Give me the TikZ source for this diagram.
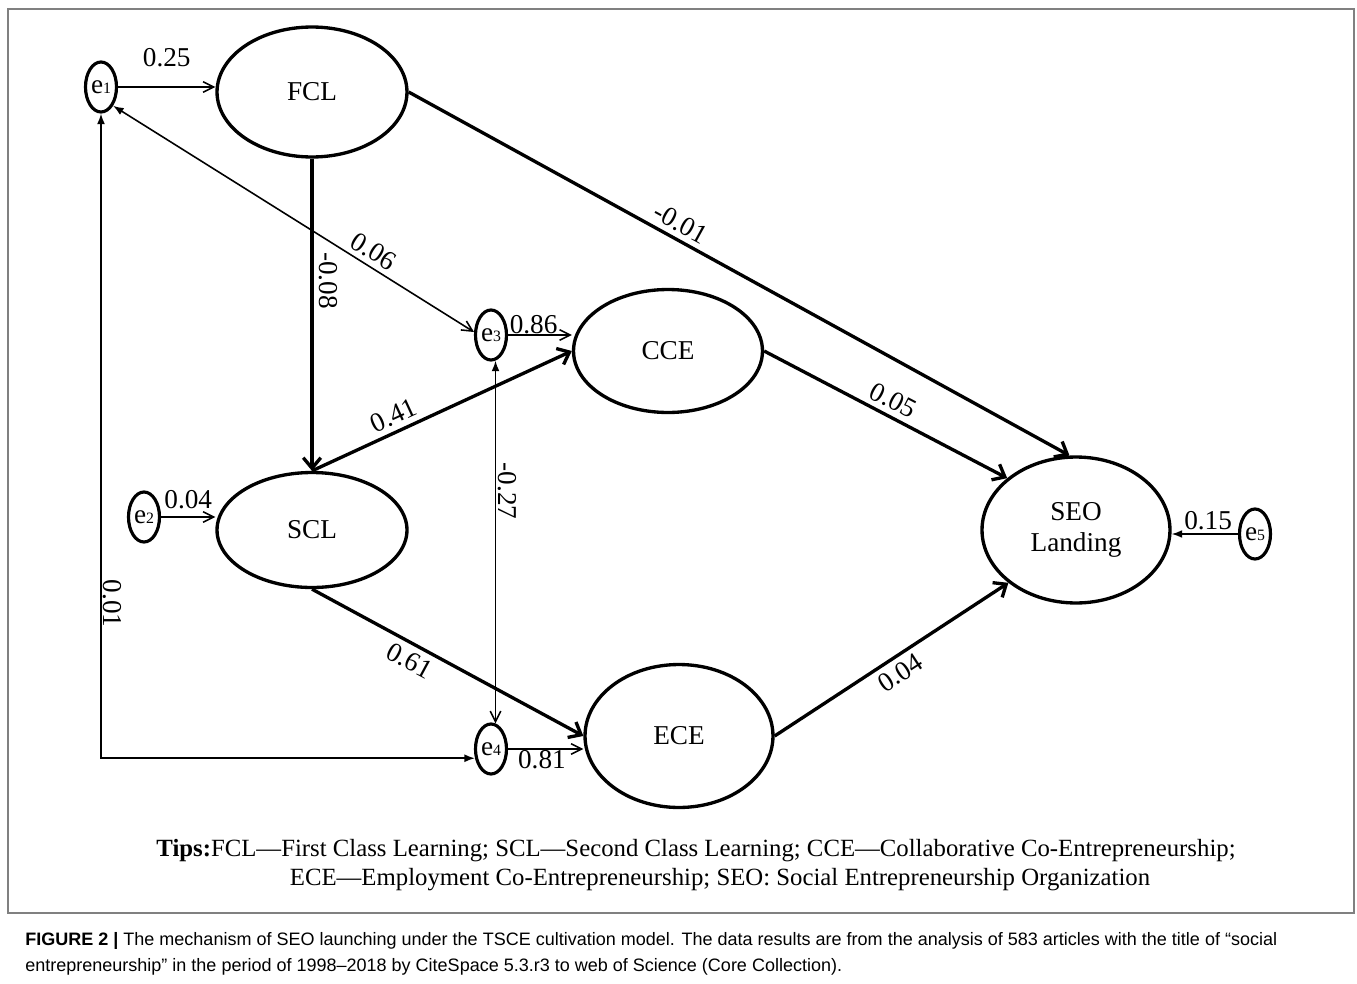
\documentclass[tikz,border=0pt]{standalone}
\usepackage{fontspec}
\setmainfont{Liberation Serif}
\newfontfamily\capfont{Liberation Sans}
\usetikzlibrary{arrows.meta,shapes.geometric}

\tikzset{
  latent/.style={draw, ellipse, line width=1.9pt, inner sep=0pt, font=\fontsize{15.5}{18}\selectfont},
  err/.style={draw, ellipse, line width=1.8pt, inner sep=0pt, minimum width=0.62cm, minimum height=1cm, font=\fontsize{15.5}{18}\selectfont},
  coef/.style={font=\fontsize{15.5}{18}\selectfont, inner sep=3pt},
  strong/.style={line width=1.9pt, -{Straight Barb[length=6pt,width=10pt]}},
  weak/.style={line width=0.9pt, -{Straight Barb[length=6pt,width=6pt]}},
  corr/.style={line width=0.9pt},
}
\newcommand{\ev}[1]{e{\fontsize{9}{9}\selectfont #1}}

\begin{document}
\begin{tikzpicture}[x=0.02cm,y=-0.02cm]
\useasboundingbox (0,0) rectangle (1357,984);
\draw[gray, line width=1pt] (8,9) rectangle (1354,913);

% latent variables
\node[latent, minimum width=3.8cm, minimum height=2.6cm] (fcl) at (312,92) {FCL};
\node[latent, minimum width=3.8cm, minimum height=2.3cm] (scl) at (312,530) {SCL};
\node[latent, minimum width=3.78cm, minimum height=2.46cm] (cce) at (668,351) {CCE};
\node[latent, minimum width=3.76cm, minimum height=2.86cm] (ece) at (679,736) {ECE};
\node[latent, minimum width=3.76cm, minimum height=2.92cm, align=center] (seo) at (1076,530) {SEO\\Landing};

% error terms
\node[err] (e1) at (101,87) {\ev{1}};
\node[err] (e2) at (144,517) {\ev{2}};
\node[err] (e3) at (491,335) {\ev{3}};
\node[err] (e4) at (491,749) {\ev{4}};
\node[err] (e5) at (1255,534) {\ev{5}};

% error paths
\draw[weak] (e1.east) -- (e1.east -| fcl.west) node[coef, midway, above=0.28cm] (c1) {0.25};
\draw[weak] (e2.east) -- (e2.east -| scl.west) node[coef, midway, above=0.04cm] (c2) {0.04};
\draw[weak] (e3.east) -- (e3.east -| cce.west) node[coef, pos=0.4, above, inner sep=0pt] (c3) {0.86};
\draw[weak] (e4.east) -- (e4.east -| ece.west) node[coef, pos=0.45, below, inner sep=0.5pt] (c4) {0.81};
\draw[corr, -{Latex[length=6pt,width=4.5pt]}] (e5.west) -- (e5.west -| seo.east) node[coef, pos=0.45, above, inner sep=2pt] (c5) {0.15};

% covariances
\draw[corr, {Latex[length=6pt,width=4.5pt]}-{Straight Barb[length=6pt,width=6pt]}] (e1.south east) -- (e3.170)
  node[coef, pos=0.7, sloped, above] (c6) {0.06};
\draw[corr, {Latex[length=6pt,width=4.5pt]}-{Straight Barb[length=6pt,width=6pt]}] (e3.-80) -- (e4.80)
  node[coef, pos=0.36, rotate=-90, anchor=south, inner sep=1pt] (c7) {-0.27};
\draw[corr, {Latex[length=6pt,width=4.5pt]}-{Latex[length=6pt,width=4.5pt]}] (e1.south) |- (e4.210)
  node[coef, pos=0.38, rotate=-90, anchor=south, inner sep=1pt] (c8) {0.01};

% structural paths
\draw[strong] (fcl.south) -- (scl.north) node[coef, pos=0.39, rotate=-90, anchor=south] (c9) {-0.08};
\draw[strong] (fcl.east) -- (seo.95) node[coef, pos=0.4, sloped, above] (c10) {-0.01};
\draw[strong] (scl.north) -- (cce.west) node[coef, pos=0.34, sloped, above] (c11) {0.41};
\draw[strong] (scl.south) -- (ece.west) node[coef, pos=0.39, sloped, below] (c12) {0.61};
\draw[strong] (cce.east) -- (seo.143) node[coef, pos=0.5, sloped, above] (c13) {0.05};
\draw[strong] (ece.east) -- (seo.218) node[coef, pos=0.5, sloped, below] (c14) {0.04};

% notes
\node[font=\fontsize{14.1}{17}\selectfont] (tips1) at (696,851)
  {\textbf{Tips:}FCL---First Class Learning; SCL---Second Class Learning; CCE---Collaborative Co-Entrepreneurship;};
\node[font=\fontsize{14.1}{17}\selectfont] (tips2) at (720,880)
  {ECE---Employment Co-Entrepreneurship; SEO: Social Entrepreneurship Organization};
\node[font=\capfont\fontsize{10.25}{14.7}\selectfont, align=left, anchor=north west, inner sep=0pt] (caption) at (25,932)
  {\textbf{FIGURE 2 |} The mechanism of SEO launching under the TSCE cultivation model. The data results are from the analysis of 583 articles with the title of “social\\
   entrepreneurship” in the period of 1998–2018 by CiteSpace 5.3.r3 to web of Science (Core Collection).};
\end{tikzpicture}
\end{document}
